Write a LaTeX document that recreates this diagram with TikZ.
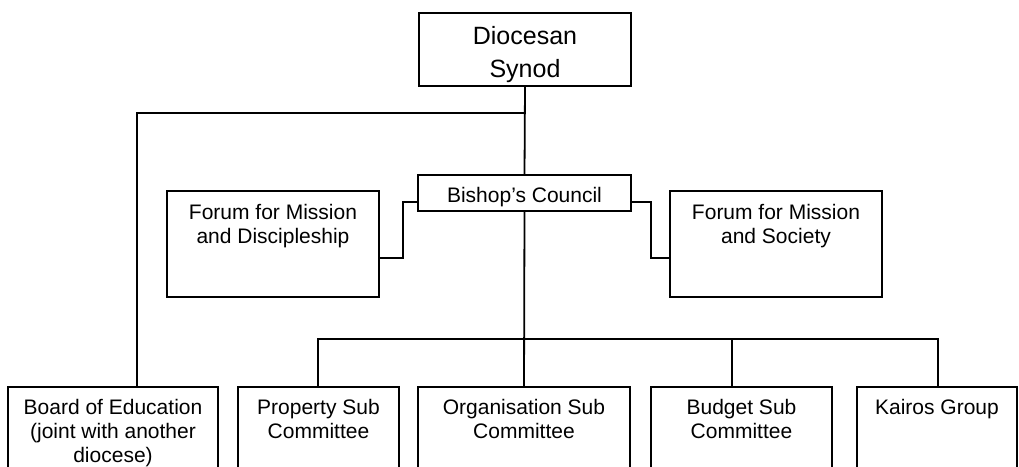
\documentclass[tikz,border=0pt]{standalone}
\usepackage{fontspec}
\setmainfont{Liberation Sans}
\begin{document}
\begin{tikzpicture}[x=1pt,y=-1pt,
  box/.style={draw,line width=1.5pt,inner sep=0pt,outer sep=0pt,rectangle},
  txt/.style={inner sep=0pt,anchor=north,align=center,font=\fontsize{21}{24}\selectfont},
  conn/.style={line width=1.8pt}]
\clip (0,0) rectangle (1019,466);
\fill[white] (0,0) rectangle (1019,466);
% boxes
\node[box,minimum width=212pt,minimum height=73pt] (synod) at (525,49.5) {};
\node[box,minimum width=213pt,minimum height=36pt] (bishop) at (524.5,193) {};
\node[box,minimum width=212pt,minimum height=106pt] (fmd) at (273,244) {};
\node[box,minimum width=212pt,minimum height=106pt] (fms) at (776,244) {};
\node[box,minimum width=210pt,minimum height=120pt] (board) at (113,447) {};
\node[box,minimum width=161pt,minimum height=120pt] (prop) at (318.5,447) {};
\node[box,minimum width=212pt,minimum height=120pt] (org) at (524,447) {};
\node[box,minimum width=181pt,minimum height=120pt] (budget) at (741.5,447) {};
\node[box,minimum width=160pt,minimum height=120pt] (kairos) at (937,447) {};
% texts
\node[txt,font=\fontsize{25}{33}\selectfont] (tsynod) at (525,26) {Diocesan\\Synod};
\node[txt] (tbishop) at (524.5,187) {Bishop’s Council};
\node[txt] (tfmd) at (273,204) {Forum for Mission\\and Discipleship};
\node[txt] (tfms) at (776,204) {Forum for Mission\\and Society};
\node[txt] (tboard) at (113,399.5) {Board of Education\\(joint with another\\diocese)};
\node[txt] (tprop) at (318.5,399.5) {Property Sub\\Committee};
\node[txt] (torg) at (524,399.5) {Organisation Sub\\Committee};
\node[txt] (tbudget) at (741.5,399.5) {Budget Sub\\Committee};
\node[txt] (tkairos) at (937,399.5) {Kairos Group};
% connectors
\coordinate (j1) at (525,113);
\coordinate (bus) at (525,339);
\draw[conn] (synod.south) -- (bishop.north);
\draw[conn] (j1) -| ([xshift=24pt]board.north);
\draw[conn] (bishop.south) -- (org.north);
\draw[conn] ([xshift=-0.5pt]prop.north) |- (bus) -| ([xshift=1pt]kairos.north);
\draw[conn] (bus) -| ([xshift=-9.5pt]budget.north);
\draw[conn] ([yshift=-14pt]fmd.east) -- ++(24,0) |- ([yshift=-9pt]bishop.west);
\draw[conn] ([yshift=-9pt]bishop.east) -- ++(20,0) |- ([yshift=-14pt]fms.west);
\end{tikzpicture}
\end{document}
